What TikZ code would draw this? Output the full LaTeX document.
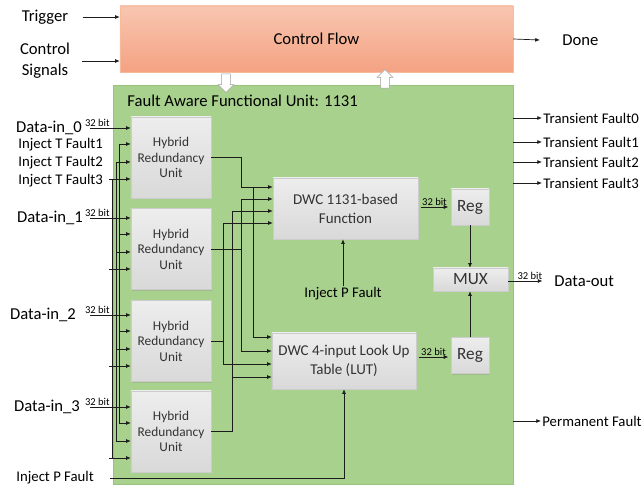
\documentclass[tikz,border=0pt]{standalone}
\usepackage{fontspec}
\setmainfont{Carlito}
\usetikzlibrary{arrows.meta,positioning,shapes.arrows,shadows}
\definecolor{cfTop}{RGB}{248,198,176}
\definecolor{cfBot}{RGB}{244,162,130}
\definecolor{cfLine}{RGB}{246,186,156}
\definecolor{fuFill}{RGB}{169,209,142}
\definecolor{fuLine}{RGB}{120,165,95}
\definecolor{wireclr}{RGB}{28,28,28}

\begin{document}
\begin{tikzpicture}[x=.03cm,y=-.03cm,
  wirest/.style={draw=wireclr,line width=.6pt},
  arr/.style={wirest,-{Latex[length=4pt,width=3.4pt]}},
  bigtxt/.style={font=\fontsize{14.2}{18}\selectfont,inner sep=1pt},
  midtxt/.style={font=\fontsize{12.6}{15}\selectfont,inner sep=1pt},
  bittxt/.style={font=\fontsize{9}{10}\selectfont,inner sep=.5pt},
  greybox/.style={draw=gray!40,top color=gray!14,bottom color=gray!30,
    drop shadow={opacity=.25,shadow xshift=1pt,shadow yshift=-1pt},
    align=center,inner sep=0pt,text=black!80},
  hrubox/.style={greybox,minimum width=2.4cm,minimum height=2.43cm,
    font=\fontsize{11.4}{13.3}\selectfont},
  dwcbox/.style={greybox,minimum width=4.35cm,minimum height=1.83cm,
    font=\fontsize{12.8}{16}\selectfont},
  regbox/.style={greybox,minimum width=1.14cm,minimum height=1.08cm,
    font=\fontsize{14.7}{16}\selectfont},
  hollow/.style={single arrow,draw=gray!75,line width=.5pt,fill=white,
    minimum height=.56cm,single arrow head extend=3pt,
    single arrow head indent=0pt,inner xsep=1pt,inner ysep=3.5pt}]
\useasboundingbox (0,0) rectangle (642,485);
\node[fill=fuFill,draw=fuLine!35!fuFill,minimum width=12cm,minimum height=11.97cm,
  inner sep=0pt] (fu) at (313,284.5) {};
\node[bigtxt,anchor=west] (futitle) at (126,101) {Fault Aware Functional Unit: 1131};
\node[top color=cfTop,bottom color=cfBot,draw=cfLine,minimum width=11.79cm,
  minimum height=1.98cm,bigtxt] (cf) at (316.5,39) {Control Flow};
\node[hollow,rotate=-90] (cfdown) at (226,81) {};
\node[hollow,rotate=90] (cfup) at (385,81) {};
\node[bigtxt] (trig) at (45,17) {Trigger};
\node[bigtxt,align=center] (ctrl) at (45,61) {Control\\Signals};
\draw[arr] ([xshift=11pt]trig.east) -- (cf.west |- trig);
\draw[arr] ([xshift=9pt]ctrl.east) -- (cf.west |- ctrl);
\node[bigtxt,anchor=west] (done) at (561,40) {Done};
\draw[arr] (cf.east) -- ([xshift=-18pt]done.west);
\foreach \h/\y in {1/157.5,2/249,3/341,4/431.5}
  \node[hrubox] (hru\h) at (171,\y) {Hybrid\\Redundancy\\Unit};
\node[dwcbox] (dwc1) at (345.5,208.5) {DWC 1131-based\\Function};
\node[dwcbox,minimum width=4.32cm,minimum height=1.68cm] (dwc2) at (344,361)
  {DWC 4-input Look Up\\Table (LUT)};
\node[regbox] (reg1) at (470,207) {Reg};
\node[regbox] (reg2) at (470,355.5) {Reg};
\node[regbox,minimum width=2.25cm,minimum height=.69cm] (mux) at (470.5,279.5) {MUX};
\foreach \b/\h/\x/\y in {0/1/49/128,1/2/50/218,2/3/43/315,3/4/47/407}{
  \node[bigtxt] (din\b) at (\x,\y) {Data-in\_\b};
  \coordinate (ds\b) at (90,\y);
  \draw[arr] (ds\b) -- (hru\h.west |- ds\b)
    node[bittxt,pos=.18,above] (dbit\b) {32 bit};
}
\foreach \f/\y in {1/145,2/163,3/181}
  \node[midtxt,anchor=west] (tf\f) at (17,\y) {Inject T Fault\f};
\foreach \f/\x/\d/\s in {1/119/16/119,2/116/34/116,3/112/51/109}{
  \draw[wirest] (\x,128+\d) -- (\x,407+\d);
  \foreach \h/\y in {1/128,2/218,3/315,4/407}
    \draw[arr] (\s,\y+\d) -- (hru\h.west |- 0,\y+\d);
}
\draw[arr] (hru1.east) -| (241,187) -- (dwc1.west |- 0,187);
\draw[arr] (253,187) |- (dwc2.west |- 0,337);
\draw[arr] (hru2.east) -| (241,199) -- (dwc1.west |- 0,199);
\draw[arr] (241,249) |- (dwc2.west |- 0,351);
\draw[arr] (hru3.east) -| (223,223) -- (dwc1.west |- 0,223);
\draw[arr] (223,341) |- (dwc2.west |- 0,364);
\draw[arr] (hru4.east) -| (232,211) -- (dwc1.west |- 0,211);
\draw[arr] (232,377) -- (dwc2.west |- 0,377);
\node[midtxt] (ipf1) at (343,294) {Inject P Fault};
\draw[arr] (ipf1.north) -- (ipf1.north |- dwc1.south);
\node[midtxt,anchor=west] (ipf2) at (15,478) {Inject P Fault};
\coordinate (ps) at (110,478);
\draw[arr] (ps) -| (dwc2.south);
\draw[arr] ([xshift=2pt]dwc1.east |- reg1) -- ([xshift=-2pt]reg1.west)
  node[bittxt,midway,above] (rbit1) {32 bit};
\draw[arr] ([xshift=2pt]dwc2.east |- 0,357) -- ([xshift=-2pt]reg2.west |- 0,357)
  node[bittxt,midway,above] (rbit2) {32 bit};
\draw[arr] (reg1.south) -- (reg1.south |- mux.north);
\draw[arr] (reg2.north) -- (reg2.north |- mux.south);
\node[bigtxt,anchor=west] (dout) at (553,281) {Data-out};
\draw[arr] (mux.east |- dout) -- ([xshift=-9pt]dout.west)
  node[bittxt,pos=.63,above] (obit) {32 bit};
\foreach \t/\y in {0/118,1/142,2/162,3/183}{
  \node[midtxt,anchor=west] (trf\t) at (542,\y) {Transient Fault\t};
  \draw[arr] (fu.east |- trf\t) -- (trf\t.west);
}
\node[midtxt,anchor=west] (pf) at (541,421) {Permanent Fault};
\draw[arr] (fu.east |- pf) -- (pf.west);
\end{tikzpicture}
\end{document}
